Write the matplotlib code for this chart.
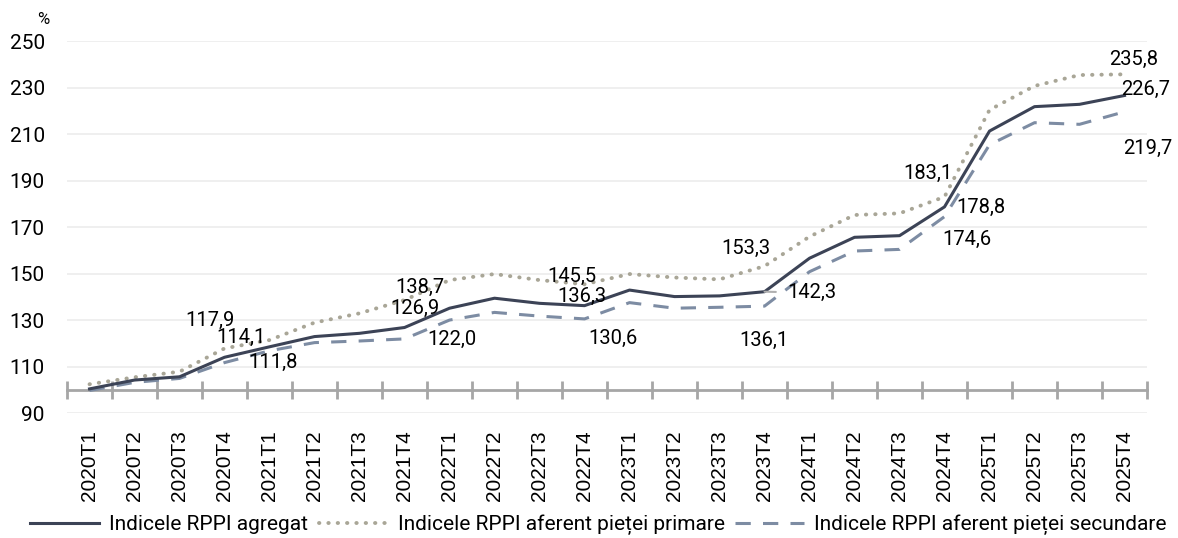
import matplotlib
matplotlib.use("Agg")
import matplotlib.pyplot as plt
from matplotlib.ticker import FixedLocator

plt.rcParams['font.family'] = ['Roboto', 'DejaVu Sans']

# date
trimestre = [f"{a}T{t}" for a in range(2020, 2026) for t in range(1, 5)]

agregat = [100.5, 104.3, 105.7, 114.1, 118.6, 123.0, 124.4, 126.9,
           135.2, 139.5, 137.3, 136.3, 143.0, 140.2, 140.5, 142.3,
           156.7, 165.7, 166.4, 178.8, 211.4, 221.9, 222.9, 226.7]
primar = [102.5, 105.5, 107.9, 117.9, 121.5, 129.0, 133.0, 138.7,
          147.3, 149.9, 147.3, 145.5, 149.9, 148.4, 147.6, 153.3,
          166.0, 175.3, 176.0, 183.1, 220.5, 230.8, 235.5, 235.8]
secundar = [99.8, 103.3, 105.0, 111.8, 116.9, 120.4, 121.1, 122.0,
            130.1, 133.4, 131.8, 130.6, 137.6, 135.2, 135.6, 136.1,
            150.9, 159.8, 160.5, 174.6, 205.5, 215.0, 214.3, 219.7]

serii = ["Indicele RPPI agregat",
         "Indicele RPPI aferent pieței primare",
         "Indicele RPPI aferent pieței secundare"]

yticks = [90, 110, 130, 150, 170, 190, 210, 230, 250]

# etichete: (serie, index, dx, dy) in pixeli
etichete = [(1, 3, -15, 28), (0, 3, 16, 20), (2, 3, 48, 0),
            (1, 7, 15, 13), (0, 7, 10, 19), (2, 7, 47, -1),
            (1, 11, -13, 8), (0, 11, -3, 9), (2, 11, 28, -20),
            (1, 15, -19, 18), (0, 15, 47, -1), (2, 15, -1, -34),
            (1, 19, -17, 23), (0, 19, 36, -1), (2, 19, 22, -23),
            (1, 23, 9, 15), (0, 23, 21, 6), (2, 23, 23, -37)]

c_agr = '#3c4356'
c_pri = '#a9a697'
c_sec = '#7d8ca3'

fig = plt.figure(figsize=(11.78, 5.38), dpi=100)
ax = fig.add_axes([0.0569, 0.2318, 0.9168, 0.6914])

x = list(range(len(trimestre)))
ax.plot(x, agregat, color=c_agr, lw=2.2, label=serii[0], zorder=4)
ax.plot(x, primar, color=c_pri, lw=2.8, ls=(0, (0.1, 2.3)), dash_capstyle='round',
        label=serii[1], zorder=3)
ax.plot(x, secundar, color=c_sec, lw=2.2, ls=(0, (5, 4)), label=serii[2], zorder=3)

ax.set_xlim(-0.5, len(trimestre) - 0.5)
ax.set_ylim(90, 250)
ax.set_yticks(yticks)
ax.grid(axis='y', color='#ececec', lw=1.2)
ax.set_axisbelow(True)

for s in ['top', 'right', 'left']:
    ax.spines[s].set_visible(False)
ax.spines['bottom'].set_position(('data', 100))
ax.spines['bottom'].set_color('#a6a6a6')
ax.spines['bottom'].set_linewidth(2)
ax.spines['bottom'].set_zorder(2)

ax.set_xticks(x)
ax.set_xticklabels(trimestre, rotation=90, fontsize=15,
                   family=['Liberation Sans', 'DejaVu Sans'])
ax.tick_params(axis='x', which='major', length=0, pad=29)
ax.xaxis.set_minor_locator(FixedLocator([i - 0.5 for i in range(len(trimestre) + 1)]))
ax.tick_params(axis='x', which='minor', direction='inout', length=13, width=2,
               color='#a6a6a6')
ax.tick_params(axis='y', length=0, labelsize=15, pad=16)

fig.text(0.0365, 0.963, '%', fontsize=12, ha='center', va='center')

valori = [agregat, primar, secundar]
for s, i, dx, dy in etichete:
    v = valori[s][i]
    txt = f"{v:.1f}".replace('.', ',')
    if s == 0 and i == 15:
        ax.annotate(txt, (i, v), xytext=(dx, dy), textcoords='offset pixels',
                    ha='center', va='center', fontsize=14.5, zorder=5,
                    arrowprops=dict(arrowstyle='-', color='#b0b0b0', lw=1.5,
                                    shrinkA=6, shrinkB=0))
    else:
        ax.annotate(txt, (i, v), xytext=(dx, dy), textcoords='offset pixels',
                    ha='center', va='center', fontsize=14.5, zorder=5)

fig.legend(loc='center', bbox_to_anchor=(0.508, 0.024), ncol=3, frameon=False,
           fontsize=15, handlelength=3.3, handletextpad=0.5, columnspacing=0.5,
           borderpad=0, borderaxespad=0)

fig.savefig('out.png', dpi=100)
